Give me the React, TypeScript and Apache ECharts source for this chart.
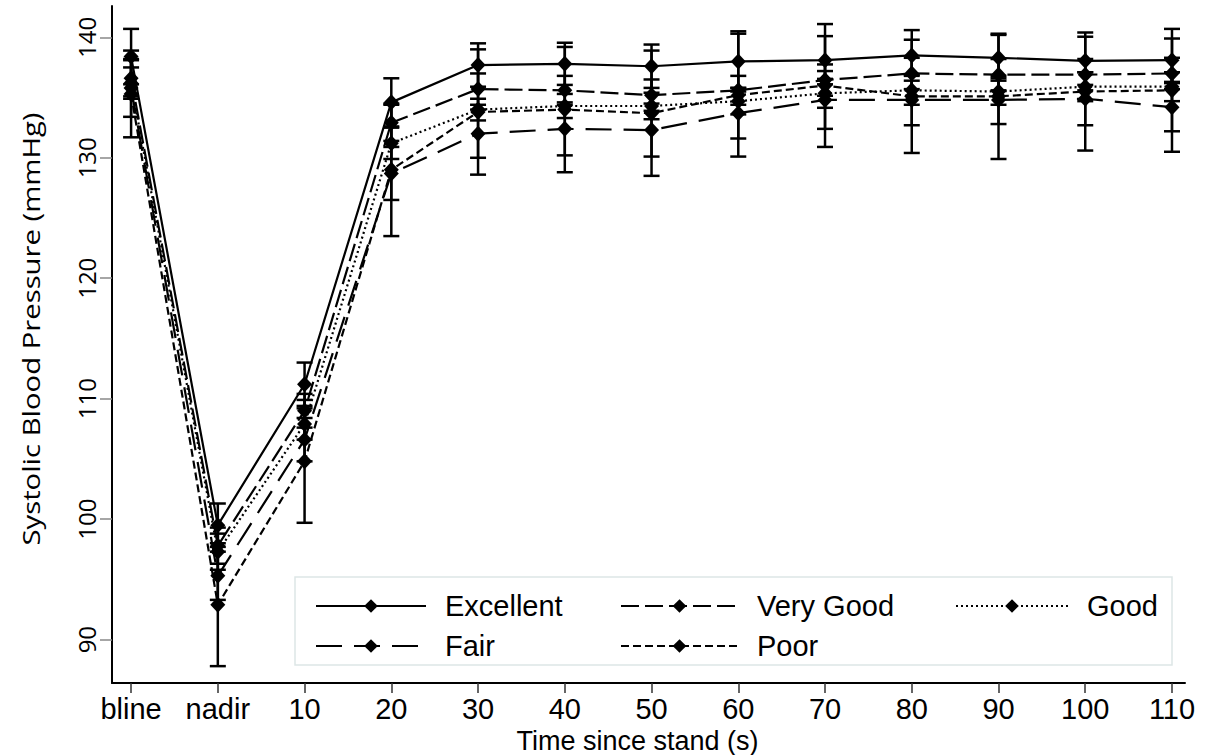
import React, { useEffect, useRef } from "react";
import * as echarts from "echarts";

const categories = ["bline", "nadir", "10", "20", "30", "40", "50", "60", "70", "80", "90", "100", "110"];
const yTicks = [90, 100, 110, 120, 130, 140];

const excellent = [138.4, 99.5, 111.2, 134.6, 137.7, 137.8, 137.6, 138.0, 138.1, 138.5, 138.3, 138.05, 138.1];
const veryGood = [136.6, 97.8, 109.0, 132.9, 135.7, 135.6, 135.2, 135.6, 136.45, 137.0, 136.9, 136.9, 137.0];
const good = [136.2, 97.3, 107.9, 131.2, 134.0, 134.3, 134.3, 134.7, 135.35, 135.6, 135.5, 135.9, 135.9];
const fair = [135.8, 95.3, 106.6, 128.7, 132.0, 132.4, 132.3, 133.7, 134.8, 134.8, 134.8, 134.9, 134.2];
const poor = [135.3, 92.9, 104.8, 129.0, 133.8, 134.0, 133.7, 135.2, 136.0, 135.1, 135.1, 135.5, 135.6];

const excellentErr = [2.3, 1.8, 1.8, 2.0, 1.8, 1.75, 1.8, 2.5, 2.0, 2.1, 1.9, 2.0, 1.8];
const veryGoodErr = [1.5, 1.5, 1.4, 1.5, 1.3, 1.2, 1.3, 1.2, 1.3, 1.3, 1.3, 1.3, 1.3];
const goodErr = [1.3, 1.5, 1.3, 1.3, 0.9, 1.0, 1.1, 1.1, 1.2, 1.2, 1.1, 1.2, 1.2];
const fairErr = [2.4, 2.0, 1.8, 2.2, 2.0, 2.2, 2.2, 2.1, 2.4, 2.1, 2.0, 2.2, 2.0];
const poorErr = [3.6, 5.1, 5.1, 5.5, 5.2, 5.2, 5.2, 5.1, 5.1, 4.7, 5.2, 4.9, 5.1];

const FONT = '"Liberation Sans", Arial, sans-serif';
const YFONT = '"Open Sans", "Noto Sans", sans-serif';

export default function App() {
  const ref = useRef<HTMLDivElement>(null);

  useEffect(() => {
    document.body.style.margin = "0";
    const chart = echarts.init(ref.current as HTMLDivElement, null, { renderer: "svg" });

    const groups: any[] = [
      { name: "Excellent", values: excellent, err: excellentErr, dash: "solid" },
      { name: "Very Good", values: veryGood, err: veryGoodErr, dash: [18, 6] },
      { name: "Good", values: good, err: goodErr, dash: [2, 3] },
      { name: "Fair", values: fair, err: fairErr, dash: [26, 12] },
      { name: "Poor", values: poor, err: poorErr, dash: [8, 4] },
    ];

    const series: any[] = [];
    groups.forEach((g) => {
      series.push({
        name: g.name + " CI",
        type: "custom",
        z: 2,
        silent: true,
        encode: { x: 0, y: [1, 2] },
        data: g.values.map((v: number, i: number) => [i, v - g.err[i], v + g.err[i]]),
        renderItem: (params: any, api: any) => {
          const x = api.value(0);
          const lo = api.coord([x, api.value(1)]);
          const hi = api.coord([x, api.value(2)]);
          const hw = 8;
          const style = { stroke: "#000", lineWidth: 2.5 };
          return {
            type: "group",
            children: [
              { type: "line", shape: { x1: lo[0], y1: lo[1], x2: hi[0], y2: hi[1] }, style },
              { type: "line", shape: { x1: lo[0] - hw, y1: lo[1], x2: lo[0] + hw, y2: lo[1] }, style },
              { type: "line", shape: { x1: hi[0] - hw, y1: hi[1], x2: hi[0] + hw, y2: hi[1] }, style },
            ],
          };
        },
      });
    });
    groups.forEach((g) => {
      series.push({
        name: g.name,
        type: "line",
        z: 3,
        data: g.values.map((v: number, i: number) => [i, v]),
        symbol: "diamond",
        symbolSize: [15, 16],
        showSymbol: true,
        itemStyle: { color: "#000" },
        lineStyle: { color: "#000", width: 2.2, type: g.dash },
        emphasis: { disabled: true },
      });
    });

    const legendBase = {
      orient: "vertical",
      top: 586,
      itemHeight: 17,
      itemGap: 10,
      selectedMode: false,
      textStyle: { fontFamily: FONT, fontSize: 29, color: "#000", lineHeight: 30, padding: [0, 0, 0, 14] },
    };

    const option: any = {
      animation: false,
      backgroundColor: "#fff",
      grid: { left: 112, right: 23, top: 6, bottom: 72, containLabel: false, outerBoundsMode: "none" },
      xAxis: {
        type: "value",
        min: -0.22,
        max: 12.15,
        name: "Time since stand (s)",
        nameLocation: "middle",
        nameGap: 31,
        nameTextStyle: { fontFamily: FONT, fontSize: 27, lineHeight: 27, color: "#000", padding: [0, 22, 0, 0] },
        axisLine: { onZero: false, lineStyle: { color: "#000", width: 2 } },
        axisTick: { customValues: categories.map((_, i) => i), length: 10, lineStyle: { color: "#333", width: 1.5 } },
        axisLabel: {
          customValues: categories.map((_, i) => i),
          formatter: (v: number) => categories[Math.round(v)],
          fontFamily: FONT,
          fontSize: 29,
          color: "#000",
          margin: 11,
        },
        splitLine: { show: false },
      },
      yAxis: {
        type: "value",
        min: 86.4,
        max: 142.6,
        axisLine: { show: true, onZero: false, lineStyle: { color: "#000", width: 2 } },
        axisTick: { show: true, customValues: yTicks, length: 12, lineStyle: { color: "#888", width: 1.5 } },
        axisLabel: {
          customValues: yTicks,
          rotate: 90,
          fontFamily: YFONT,
          fontSize: 24,
          color: "#000",
          margin: 14,
        },
        splitLine: { show: false },
      },
      legend: [
        { ...legendBase, left: 310, itemWidth: 110, data: ["Excellent", "Fair"] },
        { ...legendBase, left: 615, itemWidth: 117, data: ["Very Good", "Poor"] },
        { ...legendBase, left: 950, itemWidth: 112, data: ["Good"] },
      ],
      graphic: [
        {
          type: "rect",
          z: 0,
          shape: { x: 295, y: 577, width: 877, height: 88 },
          style: { fill: "none", stroke: "#dde6e6", lineWidth: 1.5 },
        },
        {
          type: "text",
          x: 31,
          y: 329,
          rotation: Math.PI / 2,
          scaleX: 1.22,
          style: {
            text: "Systolic Blood Pressure (mmHg)",
            fontFamily: YFONT,
            fontSize: 24,
            fill: "#000",
            align: "center",
            verticalAlign: "middle",
          },
        },
      ],
      series,
    };

    chart.setOption(option);
    return () => chart.dispose();
  }, []);

  return <div ref={ref} style={{ width: 1208, height: 755 }} />;
}
